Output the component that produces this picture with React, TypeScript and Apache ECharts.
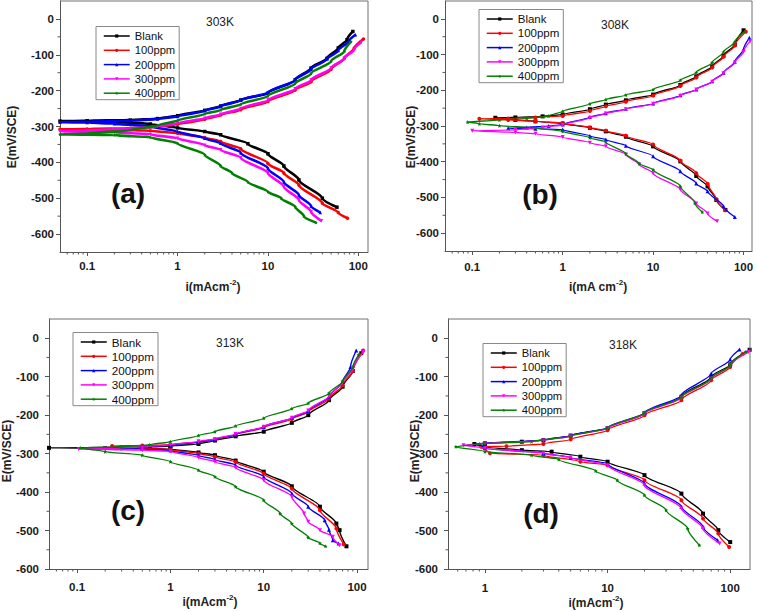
import React, { useEffect, useRef } from "react";
import * as echarts from "echarts";

type Pt = [number, number];

const seriesNames = ["Blank", "100ppm", "200ppm", "300ppm", "400ppm"];
const seriesColors = ["#000000", "#ff0000", "#0000ff", "#ff00ff", "#008000"];
const temperatures = ["303K", "308K", "313K", "318K"];
const panelTags = ["(a)", "(b)", "(c)", "(d)"];
const xTitleTexts = [
  "{m|i(mAcm}{s|-2}{m|)}",
  "{m|i(mA cm}{s|-2}{m|)}",
  "{m|i(mAcm}{s|-2}{m|)}",
  "{m|i(mAcm}{s|-2}{m|)}",
];
const yTitle = "E(mV/SCE)";
const yTickValues = [-600, -500, -400, -300, -200, -100, 0];
const xTickValuesABC = [0.1, 1, 10, 100];
const xTickValuesD = [1, 10, 100];

// ---- (a) 303K : [i (mA cm-2), E (mV/SCE)] ----
const p303Blank: Pt[] = [
  [58, -525], [40, -500], [22, -449], [15, -410], [10, -376], [6, -348], [3, -323], [2, -314], [1, -304], [0.5, -293], [0.2, -287], [0.1, -285.5], [0.05, -285],
  [0.1, -284], [0.3, -282], [0.6, -278], [1, -270], [2, -255], [3, -243], [5, -226], [10, -207], [20, -170], [30, -137], [45, -110], [60, -81], [75, -58], [87, -35],
];
const p303_100: Pt[] = [
  [76, -556], [60, -540], [40, -514], [22, -463], [15, -430], [10, -403], [5, -362], [3, -342], [2, -331], [1, -319], [0.5, -312], [0.2, -309], [0.05, -308],
  [0.1, -307], [0.3, -305], [0.6, -300], [1, -294], [2, -280], [3, -268], [5, -253], [10, -230], [20, -198], [30, -175], [50, -140], [70, -110], [90, -82], [114, -56],
];
const p303_200: Pt[] = [
  [38, -540], [30, -522], [22, -491], [15, -455], [10, -417], [5, -373], [3, -347], [2, -333], [1, -314], [0.5, -300], [0.2, -292], [0.1, -289], [0.05, -288],
  [0.1, -287], [0.3, -284], [0.6, -279], [1, -272], [2, -256], [3, -244], [5, -227], [10, -205], [20, -170], [30, -140], [45, -112], [60, -88], [80, -60], [93, -44],
];
const p303_300: Pt[] = [
  [39, -563], [30, -538], [22, -505], [15, -468], [10, -430], [5, -387], [3, -365], [2, -352], [1, -333], [0.5, -322], [0.2, -316], [0.05, -313],
  [0.1, -311], [0.3, -306], [0.6, -300], [1, -291], [2, -277], [3, -266], [5, -250], [10, -226], [20, -195], [30, -170], [50, -137], [70, -110], [90, -85], [108, -65],
];
const p303_400: Pt[] = [
  [34, -568], [25, -550], [20, -524], [14, -500], [10, -482], [6, -455], [4, -430], [3, -410], [2, -379], [1, -347], [0.5, -330], [0.2, -324], [0.05, -322],
  [0.1, -320], [0.3, -310], [0.6, -297], [1, -283], [2, -265], [3, -254], [5, -238], [10, -215], [20, -180], [30, -152], [50, -118], [70, -90], [83, -63],
];

// ---- (b) 308K ----
const p308Blank: Pt[] = [
  [63, -535], [50, -507], [40, -469], [30, -440], [20, -399], [10, -357], [5, -330], [3, -315], [2, -305], [1, -293], [0.5, -287], [0.3, -283], [0.18, -277],
  [0.3, -276], [0.6, -273], [1, -268], [2, -253], [3, -240], [5, -228], [10, -212], [20, -185], [30, -161], [45, -133], [60, -103], [80, -72], [100, -32],
];
const p308_100: Pt[] = [
  [63, -536], [50, -505], [40, -462], [30, -432], [20, -397], [10, -352], [5, -327], [3, -313], [2, -304], [1, -292], [0.5, -287], [0.25, -283], [0.12, -280],
  [0.25, -279], [0.5, -276], [1, -272], [2, -258], [3, -245], [5, -232], [10, -215], [20, -188], [30, -164], [45, -136], [60, -106], [80, -75], [106, -36],
];
const p308_200: Pt[] = [
  [80, -555], [60, -525], [40, -483], [30, -461], [20, -427], [10, -385], [5, -355], [3, -338], [2, -328], [1, -310], [0.5, -308], [0.25, -306],
  [0.4, -304], [0.7, -300], [1, -296], [2, -275], [3, -264], [5, -252], [10, -237], [20, -214], [30, -198], [45, -175], [60, -151], [80, -120], [100, -85], [116, -53],
];
const p308_300: Pt[] = [
  [51, -567], [40, -545], [30, -517], [20, -478], [10, -432], [7, -408], [5, -380], [3, -357], [2, -347], [1, -331], [0.5, -322], [0.3, -318], [0.1, -313],
  [0.3, -311], [0.6, -304], [1, -297], [2, -277], [3, -265], [5, -253], [10, -238], [20, -215], [30, -198], [45, -176], [60, -152], [80, -122], [100, -92], [118, -63],
];
const p308_400: Pt[] = [
  [35, -541], [29, -516], [20, -469], [10, -422], [7, -405], [5, -378], [3, -345], [2, -333], [1, -315], [0.5, -305], [0.2, -299], [0.12, -294], [0.089, -289],
  [0.2, -283], [0.4, -279], [0.7, -272], [1, -259], [2, -238], [3, -226], [5, -213], [10, -198], [20, -172], [30, -150], [45, -122], [60, -93], [80, -65], [104, -35],
];

// ---- (c) 313K ----
const p313Blank: Pt[] = [
  [77, -541], [65, -499], [60, -482], [40, -438], [20, -385], [10, -347], [5, -318], [3, -304], [2, -297], [1, -288], [0.5, -286], [0.2, -285.5], [0.05, -285],
  [0.3, -284], [0.6, -283], [1, -280], [2, -275], [3, -266], [5, -255], [10, -243], [20, -220], [30, -200], [50, -161], [70, -126], [90, -85], [111, -39],
];
const p313_100: Pt[] = [
  [72, -536], [60, -495], [40, -447], [20, -391], [10, -352], [5, -322], [3, -308], [2, -300], [1, -289], [0.5, -287], [0.237, -280],
  [0.5, -279], [1, -277], [2, -270], [3, -263], [5, -251], [10, -232], [20, -210], [30, -192], [50, -157], [70, -122], [90, -85], [116, -32],
];
const p313_200: Pt[] = [
  [63.5, -534], [55, -525], [50, -498], [45, -473], [30, -438], [20, -404], [10, -360], [5, -330], [3, -315], [2, -305], [1, -292], [0.5, -288], [0.3, -286],
  [0.5, -283], [1, -278], [2, -270], [3, -263], [5, -250], [10, -230], [20, -207], [30, -190], [50, -152], [70, -113], [85, -75], [98, -32],
];
const p313_300: Pt[] = [
  [65, -538], [55, -516], [40, -499], [30, -477], [27, -456], [20, -412], [10, -369], [5, -336], [3, -321], [2, -310], [1, -294], [0.5, -291], [0.2, -289], [0.104, -288],
  [0.2, -287], [0.5, -283], [1, -277], [2, -268], [3, -262], [5, -249], [10, -230], [20, -207], [30, -188], [50, -150], [70, -115], [90, -80], [117, -36],
];
const p313_400: Pt[] = [
  [46, -541], [40, -533], [30, -518], [20, -482], [15, -456], [10, -421], [5, -386], [3, -360], [2, -343], [1, -321], [0.5, -304], [0.2, -295], [0.108, -285],
  [0.3, -282], [0.6, -277], [1, -269], [2, -253], [3, -243], [5, -228], [10, -208], [20, -183], [30, -169], [50, -143], [70, -112], [90, -75], [104, -43],
];

// ---- (d) 318K ----
const p318Blank: Pt[] = [
  [100, -530], [80, -499], [60, -456], [40, -404], [20, -356], [10, -321], [6, -308], [3.5, -295], [2, -291], [1, -283], [0.82, -275],
  [1, -273], [2, -269], [3, -265], [5, -253], [10, -234], [20, -195], [40, -152], [70, -100], [100, -68], [144, -30],
];
const p318_100: Pt[] = [
  [98, -543], [80, -508], [60, -469], [40, -421], [20, -369], [10, -330], [6, -321], [3, -304], [1.1, -299], [0.93, -282],
  [1.5, -281], [3, -275], [5, -263], [10, -239], [20, -200], [40, -161], [70, -109], [100, -75], [126, -41],
];
const p318_200: Pt[] = [
  [79, -525], [60, -490], [40, -438], [20, -378], [10, -326], [5, -310], [3, -299], [1, -286], [0.9, -275],
  [1, -273], [3, -265], [5, -253], [10, -233], [20, -193], [40, -148], [70, -92], [100, -55], [119, -29],
];
const p318_300: Pt[] = [
  [82, -534], [60, -495], [40, -443], [20, -382], [10, -330], [5, -310], [3, -299], [1, -286], [0.67, -278],
  [1, -274], [3, -266], [5, -255], [10, -235], [20, -196], [40, -155], [70, -105], [100, -70], [141, -36],
];
const p318_400: Pt[] = [
  [56, -538], [45, -495], [30, -447], [20, -408], [12, -369], [8, -345], [4, -315], [2.4, -304], [1, -295], [0.58, -282],
  [1, -274], [2.4, -269], [5, -255], [10, -233], [20, -194], [40, -153], [70, -104], [100, -70], [134, -35],
];

const panelData: Pt[][][] = [
  [p303Blank, p303_100, p303_200, p303_300, p303_400],
  [p308Blank, p308_100, p308_200, p308_300, p308_400],
  [p313Blank, p313_100, p313_200, p313_300, p313_400],
  [p318Blank, p318_100, p318_200, p318_300, p318_400],
];

const FONT = "'Liberation Sans', Arial, Helvetica, sans-serif";
const STAR =
  "path://M0,-10L2.9,-4L9.5,-3.1L4.8,1.5L5.9,8.1L0,5L-5.9,8.1L-4.8,1.5L-9.5,-3.1L-2.9,-4Z";
const symbols = ["rect", "circle", "triangle", "triangle", STAR];
const symbolRotations = [0, 0, 0, 180, 0];

const layouts = [
  {
    grid: { left: 60, top: 1, width: 308, height: 251 },
    xMin: 0.05, xMax: 128, yMin: -650, yMax: 50, xTicks: xTickValuesABC,
    xLabelMargin: 8, yLabelMargin: 6,
    legend: { left: 96, top: 26.5 }, legendFont: 11.2,
    tempPos: [220, 22], tagPos: [128, 193], xTitlePos: [213, 287], yTitlePos: [11.5, 137],
    lineW: 2.6, symSize: 3.5,
  },
  {
    grid: { left: 445, top: 1, width: 307, height: 250 },
    xMin: 0.05, xMax: 124, yMin: -650, yMax: 50, xTicks: xTickValuesABC,
    xLabelMargin: 10, yLabelMargin: 6,
    legend: { left: 479, top: 9.5 }, legendFont: 11.5,
    tempPos: [615, 25], tagPos: [540, 194], xTitlePos: [598, 287], yTitlePos: [411, 137],
    lineW: 1.3, symSize: 4,
  },
  {
    grid: { left: 49, top: 319, width: 319, height: 250 },
    xMin: 0.05, xMax: 131, yMin: -600, yMax: 50, xTicks: xTickValuesABC,
    xLabelMargin: 12, yLabelMargin: 10,
    legend: { left: 73, top: 332.5 }, legendFont: 11.7,
    tempPos: [230, 343], tagPos: [128, 510], xTitlePos: [210, 602], yTitlePos: [7, 451],
    lineW: 1.4, symSize: 4,
  },
  {
    grid: { left: 448, top: 319, width: 302, height: 250 },
    xMin: 0.5, xMax: 145, yMin: -600, yMax: 50, xTicks: xTickValuesD,
    xLabelMargin: 13, yLabelMargin: 10,
    legend: { left: 483, top: 343.5 }, legendFont: 11.2,
    tempPos: [623, 345], tagPos: [541, 513], xTitlePos: [596, 603], yTitlePos: [415, 451],
    lineW: 1.3, symSize: 4,
  },
];

function minorXValues(min: number, max: number, majors: number[]): number[] {
  const out: number[] = [];
  for (const dec of [0.01, 0.1, 1, 10, 100]) {
    for (let m = 2; m <= 9; m++) {
      const v = +(m * dec).toPrecision(6);
      if (v > min && v < max && majors.indexOf(v) < 0) out.push(v);
    }
  }
  return out;
}
function minorYValues(min: number, max: number): number[] {
  const out: number[] = [];
  for (let v = -950; v < 100; v += 100) if (v > min && v < max) out.push(v);
  return out;
}

// frame (top/right) and minor ticks, placed on the same axis ranges as the grids
function frameGraphic(): any[] {
  const out: any[] = [];
  layouts.forEach((L) => {
    const g = L.grid;
    const lx0 = Math.log10(L.xMin);
    const lx1 = Math.log10(L.xMax);
    const px = (v: number) => g.left + (g.width * (Math.log10(v) - lx0)) / (lx1 - lx0);
    const py = (v: number) => g.top + (g.height * (L.yMax - v)) / (L.yMax - L.yMin);
    const right = g.left + g.width;
    const bottom = g.top + g.height;
    out.push({
      type: "line", silent: true, z: 50,
      shape: { x1: g.left, y1: g.top, x2: right, y2: g.top },
      style: { stroke: "#707070", lineWidth: 1 },
    });
    out.push({
      type: "line", silent: true, z: 50,
      shape: { x1: right, y1: g.top, x2: right, y2: bottom },
      style: { stroke: "#707070", lineWidth: 1 },
    });
    minorXValues(L.xMin, L.xMax, L.xTicks).forEach((v) => {
      const x = px(v);
      out.push({
        type: "line", silent: true, z: 50,
        shape: { x1: x, y1: bottom, x2: x, y2: bottom + 2.5 },
        style: { stroke: "#555555", lineWidth: 1 },
      });
    });
    minorYValues(L.yMin, L.yMax).forEach((v) => {
      const y = py(v);
      out.push({
        type: "line", silent: true, z: 50,
        shape: { x1: g.left - 2.5, y1: y, x2: g.left, y2: y },
        style: { stroke: "#555555", lineWidth: 1 },
      });
    });
  });
  return out;
}

function textGraphic(): any[] {
  const graphic: any[] = [];
  layouts.forEach((L, k) => {
    graphic.push({
      type: "text", x: L.tempPos[0], y: L.tempPos[1], silent: true,
      style: { text: temperatures[k], fontSize: 12, fontFamily: FONT, fill: "#222", align: "center", verticalAlign: "middle" },
    });
    graphic.push({
      type: "text", x: L.tagPos[0], y: L.tagPos[1], silent: true,
      style: { text: panelTags[k], fontSize: 28, fontWeight: "bold", fontFamily: FONT, fill: "#111", align: "center", verticalAlign: "middle" },
    });
    graphic.push({
      type: "text", x: L.xTitlePos[0], y: L.xTitlePos[1], silent: true,
      style: {
        text: xTitleTexts[k], align: "center", verticalAlign: "middle", fill: "#222",
        rich: {
          m: { fontSize: 12, fontWeight: "bold", fontFamily: FONT, fill: "#222", lineHeight: 18 },
          s: { fontSize: 8, fontWeight: "bold", fontFamily: FONT, fill: "#222", lineHeight: 8, verticalAlign: "top" },
        },
      },
    });
    graphic.push({
      type: "text", x: L.yTitlePos[0], y: L.yTitlePos[1], rotation: Math.PI / 2, silent: true,
      style: { text: yTitle, fontSize: 12, fontWeight: "bold", fontFamily: FONT, fill: "#222", align: "center", verticalAlign: "middle" },
    });
  });
  return graphic;
}

function buildOption() {
  const series: any[] = [];
  layouts.forEach((L, k) => {
    panelData[k].forEach((data, s) => {
      series.push({
        type: "line",
        name: seriesNames[s],
        xAxisIndex: k,
        yAxisIndex: k,
        data,
        smooth: 0.25,
        smoothMonotone: "y",
        symbol: symbols[s],
        symbolRotate: symbolRotations[s],
        symbolSize: L.symSize,
        showSymbol: true,
        color: seriesColors[s],
        lineStyle: { width: L.lineW, color: seriesColors[s] },
        itemStyle: { color: seriesColors[s] },
        z: 3 + s,
      });
    });
  });

  return {
    animation: false,
    backgroundColor: "#ffffff",
    textStyle: { fontFamily: FONT },
    grid: layouts.map((L) => ({ ...L.grid, show: false })),
    xAxis: layouts.map((L, k) => ({
      type: "log",
      logBase: 10,
      gridIndex: k,
      position: "bottom",
      min: L.xMin,
      max: L.xMax,
      axisLine: { show: true, onZero: false, lineStyle: { color: "#555", width: 1 } },
      axisTick: { show: true, inside: false, length: 4, lineStyle: { color: "#555" }, customValues: L.xTicks },
      axisLabel: {
        customValues: L.xTicks, margin: L.xLabelMargin, color: "#1a1a1a", fontWeight: "bold", fontSize: 11.5, fontFamily: FONT,
        formatter: (v: number) => String(+v.toPrecision(6)),
      },
      splitLine: { show: false },
      minorTick: { show: false },
      minorSplitLine: { show: false },
    })),
    yAxis: layouts.map((L, k) => ({
      type: "value",
      gridIndex: k,
      position: "left",
      min: L.yMin,
      max: L.yMax,
      splitNumber: 7,
      axisLine: { show: true, onZero: false, lineStyle: { color: "#555", width: 1 } },
      axisTick: { show: true, inside: false, length: 4, lineStyle: { color: "#555" }, customValues: yTickValues },
      axisLabel: { customValues: yTickValues, margin: L.yLabelMargin, color: "#1a1a1a", fontWeight: "bold", fontSize: 11.5, fontFamily: FONT },
      splitLine: { show: false },
      minorTick: { show: false },
    })),
    legend: layouts.map((L) => ({
      data: seriesNames,
      orient: "vertical",
      left: L.legend.left,
      top: L.legend.top,
      itemWidth: 26,
      itemHeight: 4,
      itemGap: 2.3,
      padding: [3.5, 4, 0.5, 7],
      borderColor: "#888",
      borderWidth: 1,
      backgroundColor: "#ffffff",
      selectedMode: false,
      lineStyle: { width: 1.5 },
      itemStyle: { borderWidth: 0 },
      textStyle: { fontSize: L.legendFont, color: "#111", fontFamily: FONT, lineHeight: 12 },
    })),
    series,
    graphic: [...textGraphic(), ...frameGraphic()],
  };
}

export default function App() {
  const ref = useRef<HTMLDivElement>(null);
  useEffect(() => {
    if (!ref.current) return;
    const chart = echarts.init(ref.current, undefined, { renderer: "svg" });
    chart.setOption(buildOption() as any);
    return () => chart.dispose();
  }, []);
  return (
    <div
      ref={ref}
      style={{ position: "absolute", left: 0, top: 0, width: 757, height: 612, background: "#fff" }}
    />
  );
}
